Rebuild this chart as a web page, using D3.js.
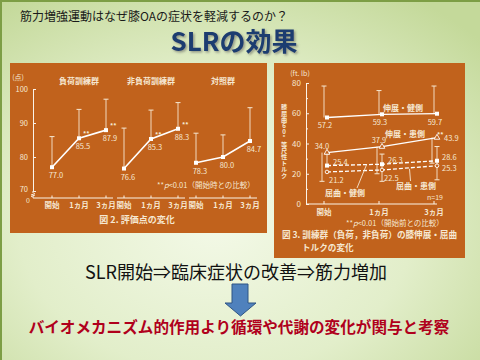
<!DOCTYPE html>
<html><head><meta charset="utf-8">
<script src="https://cdn.jsdelivr.net/npm/d3@7"></script>
<style>body{margin:0;background:#fff;}svg{display:block;}</style>
</head><body><script>
// ---------- data ----------
const months = ["開始", "1ヵ月", "3ヵ月"];
const groupNames = ["負荷訓練群", "非負荷訓練群", "対照群"];
const loadScores = [77.0, 85.5, 87.9];
const nonLoadScores = [76.6, 85.3, 88.3];
const controlScores = [78.3, 80.0, 84.7];
const loadErrTop = [86, 94, 97];
const nonLoadErrTop = [88.5, 93.8, 96];
const controlErrTop = [87, 86.5, 94.5];
const scoreSig = [[false, true, true], [false, true, true], [false, false, false]];
const scoreTicks = [70, 80, 90, 100];

const torqueNames = ["伸展・健側", "伸展・患側", "屈曲・健側", "屈曲・患側"];
const extHealthy = [57.2, 59.3, 59.7];
const extAffected = [34.0, 37.9, 43.9];
const flexHealthy = [25.4, 26.3, 28.6];
const flexAffected = [21.2, 22.5, 25.3];
const extHealthyErrTop = [78, 75, 78];
const extAffectedErrLow = [15, 20, 27];
const flexErrLow = [25.4, 15, 16];
const flexErrHigh = [33, 33, 38];
const torqueTicks = [0, 20, 40, 60, 80];
const torqueMinorTicks = [10, 30, 50, 70];
const torqueAxisTitle = "膝屈曲60°等尺性トルク";

// ---------- setup ----------
const W = 480, H = 360;
const JP = "'Noto Sans CJK JP','Noto Sans',sans-serif";
const ORANGE = "#c1621c", CREAM = "#f6e8d2", LINE = "#fbf3e8";
const svg = d3.select("body").append("svg").attr("width", W).attr("height", H)
  .style("font-family", JP);
const defs = svg.append("defs");
const rg = defs.append("radialGradient").attr("id", "bg")
  .attr("cx", "45%").attr("cy", "62%").attr("r", "75%");
rg.append("stop").attr("offset", "0%").attr("stop-color", "#f3f9e7");
rg.append("stop").attr("offset", "55%").attr("stop-color", "#e2eeca");
rg.append("stop").attr("offset", "100%").attr("stop-color", "#c4d99a");
const sh = defs.append("filter").attr("id", "shadow").attr("x", "-10%").attr("y", "-20%").attr("width", "130%").attr("height", "150%");
sh.append("feDropShadow").attr("dx", 1.5).attr("dy", 1.5).attr("stdDeviation", 0.8)
  .attr("flood-color", "#555").attr("flood-opacity", 0.55);
svg.append("rect").attr("width", W).attr("height", H).attr("fill", "url(#bg)");
svg.append("path").attr("d", `M1,${H} L1,1 L${W},1`).attr("fill", "none")
  .attr("stroke", "#7d9e45").attr("stroke-width", 2);

// header
svg.append("text").attr("x", 20).attr("y", 21).attr("font-size", 12).attr("fill", "#1a1a1a")
  .text("筋力増強運動はなぜ膝OAの症状を軽減するのか？");
svg.append("text").attr("x", 234).attr("y", 51).attr("text-anchor", "middle")
  .attr("font-size", 26).attr("font-weight", "bold").attr("fill", "#1d3c70")
  .attr("filter", "url(#shadow)").text("SLRの効果");

// panels
svg.append("rect").attr("x", 10).attr("y", 63).attr("width", 257).attr("height", 170).attr("fill", ORANGE);
svg.append("rect").attr("x", 274).attr("y", 63).attr("width", 191).attr("height", 195).attr("fill", ORANGE);

// ---------- left chart ----------
const L = svg.append("g").attr("fill", CREAM).attr("font-size", 8);
const yL = d3.scaleLinear().domain([70, 100]).range([191, 89]);
const axisY = 198;
const groupX0 = [52, 124, 196];
const xG = groupX0.map(x0 => d3.scalePoint().domain(months).range([x0, x0 + 54]));
const seriesL = [loadScores, nonLoadScores, controlScores];
const errL = [loadErrTop, nonLoadErrTop, controlErrTop];

const ya = L.append("g").attr("transform", "translate(33,0)")
  .call(d3.axisLeft(yL).tickValues(scoreTicks).tickSizeInner(-3).tickSizeOuter(0).tickPadding(5));
ya.selectAll("path,line").attr("stroke", LINE);
ya.selectAll("text").attr("fill", CREAM).attr("font-size", 7.5).attr("font-family", JP);
ya.selectAll("text").filter(d => d === 70).attr("dy", "0.1em");
L.append("path").attr("d", `M33,${yL(70)} L33,${yL(70)+2} M31,${yL(70)+4} L35,${yL(70)+2.5} M31,${yL(70)+5.5} L35,${yL(70)+4} M33,${yL(70)+5} L33,${axisY}`)
  .attr("stroke", LINE).attr("fill", "none").attr("stroke-width", 1);
L.append("text").attr("x", 30).attr("y", axisY + 5).attr("text-anchor", "end").attr("font-size", 7).text("0");
L.append("text").attr("x", 18).attr("y", 80).attr("text-anchor", "middle").attr("font-size", 7).text("(点)");

groupNames.forEach((g, i) => {
  const xs = xG[i];
  const left = i === 0 ? 33 : groupX0[i] - 7;
  const right = groupX0[i] + 61;
  L.append("line").attr("x1", left).attr("x2", right).attr("y1", axisY).attr("y2", axisY)
    .attr("stroke", LINE).attr("stroke-width", 1.2);
  months.forEach(m => {
    L.append("line").attr("x1", xs(m)).attr("x2", xs(m)).attr("y1", axisY).attr("y2", axisY - 2.5).attr("stroke", LINE);
    L.append("text").attr("x", xs(m)).attr("y", axisY + 10).attr("text-anchor", "middle")
      .attr("font-size", 7.5).attr("font-weight", "bold").text(m);
  });
  L.append("text").attr("x", (xs.range()[0] + xs.range()[1]) / 2).attr("y", 84).attr("text-anchor", "middle")
    .attr("font-size", 8).attr("font-weight", "bold").text(g);
  const vals = seriesL[i];
  vals.forEach((v, j) => {
    const x = xs(months[j]);
    L.append("line").attr("x1", x).attr("x2", x).attr("y1", yL(v)).attr("y2", yL(errL[i][j])).attr("stroke", CREAM).attr("stroke-width", 0.9);
    L.append("line").attr("x1", x - 2.5).attr("x2", x + 2.5).attr("y1", yL(errL[i][j])).attr("y2", yL(errL[i][j])).attr("stroke", CREAM).attr("stroke-width", 1);
  });
  L.append("path").datum(vals)
    .attr("d", d3.line().x((d, j) => xs(months[j])).y(d => yL(d)))
    .attr("fill", "none").attr("stroke", "#ffffff").attr("stroke-width", 1.6);
  vals.forEach((v, j) => {
    const x = xs(months[j]), y = yL(v);
    L.append("rect").attr("x", x - 2).attr("y", y - 2).attr("width", 4).attr("height", 4).attr("fill", "#fff");
    L.append("text").attr("x", x + 4).attr("y", y + 11).attr("text-anchor", "middle").attr("font-size", 7.5).text(v.toFixed(1));
    if (scoreSig[i][j]) L.append("text").attr("x", x + 4).attr("y", y - 2).attr("font-size", 6.5).attr("font-weight", "bold").text("**");
  });
});
const fnL = L.append("text").attr("x", 157).attr("y", 188).attr("font-size", 7.5);
fnL.append("tspan").text("**");
fnL.append("tspan").attr("font-style", "italic").text("p");
fnL.append("tspan").text("<0.01（開始時との比較）");
L.append("text").attr("x", 137).attr("y", 223).attr("text-anchor", "middle").attr("font-size", 9).attr("font-weight", "bold")
  .text("図 2.  評価点の変化");

// ---------- right chart ----------
const R = svg.append("g").attr("fill", CREAM).attr("font-size", 7.5);
const yR = d3.scaleLinear().domain([0, 80]).range([204, 83]);
const xR = d3.scalePoint().domain(months).range([324, 434]);
const ra = R.append("g").attr("transform", "translate(306,0)")
  .call(d3.axisLeft(yR).tickValues(torqueTicks).tickSizeInner(-3).tickSizeOuter(0).tickPadding(5));
ra.selectAll("path,line").attr("stroke", LINE);
ra.selectAll("text").attr("fill", CREAM).attr("font-size", 8).attr("font-family", JP);
const rm = R.append("g").attr("transform", "translate(306,0)")
  .call(d3.axisLeft(yR).tickValues(torqueMinorTicks).tickSizeInner(-2).tickSizeOuter(0).tickFormat(""));
rm.selectAll("path").remove();
rm.selectAll("line").attr("stroke", LINE);
R.append("line").attr("x1", 306).attr("x2", 437).attr("y1", yR(0)).attr("y2", yR(0)).attr("stroke", LINE).attr("stroke-width", 1.2);
months.forEach(m => {
  R.append("line").attr("x1", xR(m)).attr("x2", xR(m)).attr("y1", yR(0)).attr("y2", yR(0) - 3).attr("stroke", LINE);
  R.append("text").attr("x", xR(m)).attr("y", yR(0) + 11).attr("text-anchor", "middle").attr("font-size", 7.5).attr("font-weight", "bold").text(m);
});
R.append("text").attr("x", 300).attr("y", 76).attr("text-anchor", "middle").attr("font-size", 7).text("(ft. lb)");
R.append("text").attr("x", 284).attr("y", 104)
  .style("writing-mode", "vertical-rl").style("text-orientation", "upright")
  .attr("font-size", 6.2).attr("font-weight", "bold").text(torqueAxisTitle);

function vbar(x, a, b, capA, capB) {
  R.append("line").attr("x1", x).attr("x2", x).attr("y1", yR(a)).attr("y2", yR(b)).attr("stroke", CREAM).attr("stroke-width", 0.9);
  if (capA) R.append("line").attr("x1", x - 2.5).attr("x2", x + 2.5).attr("y1", yR(a)).attr("y2", yR(a)).attr("stroke", CREAM);
  if (capB) R.append("line").attr("x1", x - 2.5).attr("x2", x + 2.5).attr("y1", yR(b)).attr("y2", yR(b)).attr("stroke", CREAM);
}
months.forEach((m, j) => {
  const x = xR(m);
  vbar(x, extHealthy[j], extHealthyErrTop[j], false, true);
  vbar(x - 2, extAffected[j], extAffectedErrLow[j], false, true);
  vbar(x + 3, flexErrLow[j], flexErrHigh[j], j > 0, true);
});

const torqueSeries = [
  { vals: extHealthy, dash: null, marker: "sq" },
  { vals: extAffected, dash: null, marker: "tri" },
  { vals: flexHealthy, dash: "4,2", marker: "sq" },
  { vals: flexAffected, dash: "4,2", marker: "circ" }
];
torqueSeries.forEach(s => {
  R.append("path").datum(s.vals)
    .attr("d", d3.line().x((d, j) => xR(months[j]) + 3).y(d => yR(d)))
    .attr("fill", "none").attr("stroke", "#fff").attr("stroke-width", 1.3)
    .attr("stroke-dasharray", s.dash);
  s.vals.forEach((v, j) => {
    const x = xR(months[j]) + 3, y = yR(v);
    if (s.marker === "sq") R.append("rect").attr("x", x - 2).attr("y", y - 2).attr("width", 4).attr("height", 4).attr("fill", "#fff");
    else if (s.marker === "tri") R.append("path").attr("d", d3.symbol(d3.symbolTriangle, 14)()).attr("transform", `translate(${x},${y})`)
      .attr("fill", ORANGE).attr("stroke", "#fff").attr("stroke-width", 0.9);
    else R.append("circle").attr("cx", x).attr("cy", y).attr("r", 1.8).attr("fill", ORANGE).attr("stroke", "#fff").attr("stroke-width", 0.9);
  });
});
extHealthy.forEach((v, j) => R.append("text").attr("x", xR(months[j]) + 1).attr("y", yR(v) + 11).attr("text-anchor", "middle").text(v.toFixed(1)));
extAffected.forEach((v, j) => {
  if (j < 2) R.append("text").attr("x", xR(months[j]) - 2 + j * 2).attr("y", yR(v) - 4).attr("text-anchor", "middle").text(v.toFixed(1));
  else {
    R.append("text").attr("x", xR(months[j]) + 10).attr("y", yR(v) + 3).text(v.toFixed(1));
    R.append("text").attr("x", xR(months[j]) + 3).attr("y", yR(v) - 1).attr("font-size", 6.5).attr("font-weight", "bold").text("**");
  }
});
flexHealthy.forEach((v, j) => R.append("text").attr("x", xR(months[j]) + (j === 2 ? 8 : 9)).attr("y", yR(v) - 1).text(v.toFixed(1)));
flexAffected.forEach((v, j) => R.append("text").attr("x", xR(months[j]) + (j === 2 ? 8 : 5)).attr("y", yR(v) + (j === 2 ? 5 : 11)).text(v.toFixed(1)));
R.append("text").attr("x", 403).attr("y", 111).attr("text-anchor", "middle").attr("font-size", 8).attr("font-weight", "bold").text(torqueNames[0]);
R.append("text").attr("x", 405).attr("y", 137).attr("text-anchor", "middle").attr("font-size", 8).attr("font-weight", "bold").text(torqueNames[1]);
R.append("text").attr("x", 345).attr("y", 196).attr("text-anchor", "middle").attr("font-size", 8).attr("font-weight", "bold").text(torqueNames[2]);
R.append("text").attr("x", 416).attr("y", 189).attr("text-anchor", "middle").attr("font-size", 8).attr("font-weight", "bold").text(torqueNames[3]);
const lerp = (vals, j, t) => vals[j] + (vals[j + 1] - vals[j]) * t;
const t1 = 0.72, x1 = xR(months[0]) + 3 + (xR(months[1]) - xR(months[0])) * t1;
R.append("line").attr("x1", 357).attr("y1", 188).attr("x2", x1).attr("y2", yR(lerp(flexHealthy, 0, t1))).attr("stroke", CREAM).attr("stroke-width", 0.9);
const t2 = 0.5, x2 = xR(months[1]) + 3 + (xR(months[2]) - xR(months[1])) * t2;
R.append("line").attr("x1", x2 + 1).attr("y1", 181).attr("x2", x2).attr("y2", yR(lerp(flexAffected, 1, t2)) + 1).attr("stroke", CREAM).attr("stroke-width", 0.9);
R.append("text").attr("x", 435).attr("y", 200).attr("text-anchor", "middle").attr("font-size", 7).text("n=19");
const fnR = R.append("text").attr("x", 346).attr("y", 226).attr("font-size", 7.5);
fnR.append("tspan").text("**");
fnR.append("tspan").attr("font-style", "italic").text("p");
fnR.append("tspan").text("<0.01（開始前との比較）");
R.append("text").attr("x", 282).attr("y", 238).attr("font-size", 8.6).attr("font-weight", "bold").text("図 3.  訓練群（負荷，非負荷）の膝伸展・屈曲");
R.append("text").attr("x", 302).attr("y", 251).attr("font-size", 8.6).attr("font-weight", "bold").text("トルクの変化");

// ---------- bottom ----------
svg.append("text").attr("x", 236).attr("y", 279).attr("text-anchor", "middle").attr("font-size", 18)
  .attr("fill", "#111").text("SLR開始⇒臨床症状の改善⇒筋力増加");
svg.append("path").attr("d", "M232,284 L248,284 L248,303 L256,303 L240.5,316 L225,303 L232,303 Z")
  .attr("fill", "#4f81bd").attr("stroke", "#2f5584").attr("stroke-width", 1);
svg.append("text").attr("x", 239).attr("y", 333).attr("text-anchor", "middle").attr("font-size", 15.6)
  .attr("font-weight", "bold").attr("fill", "#b0001c").text("バイオメカニズム的作用より循環や代謝の変化が関与と考察");
</script></body></html>
